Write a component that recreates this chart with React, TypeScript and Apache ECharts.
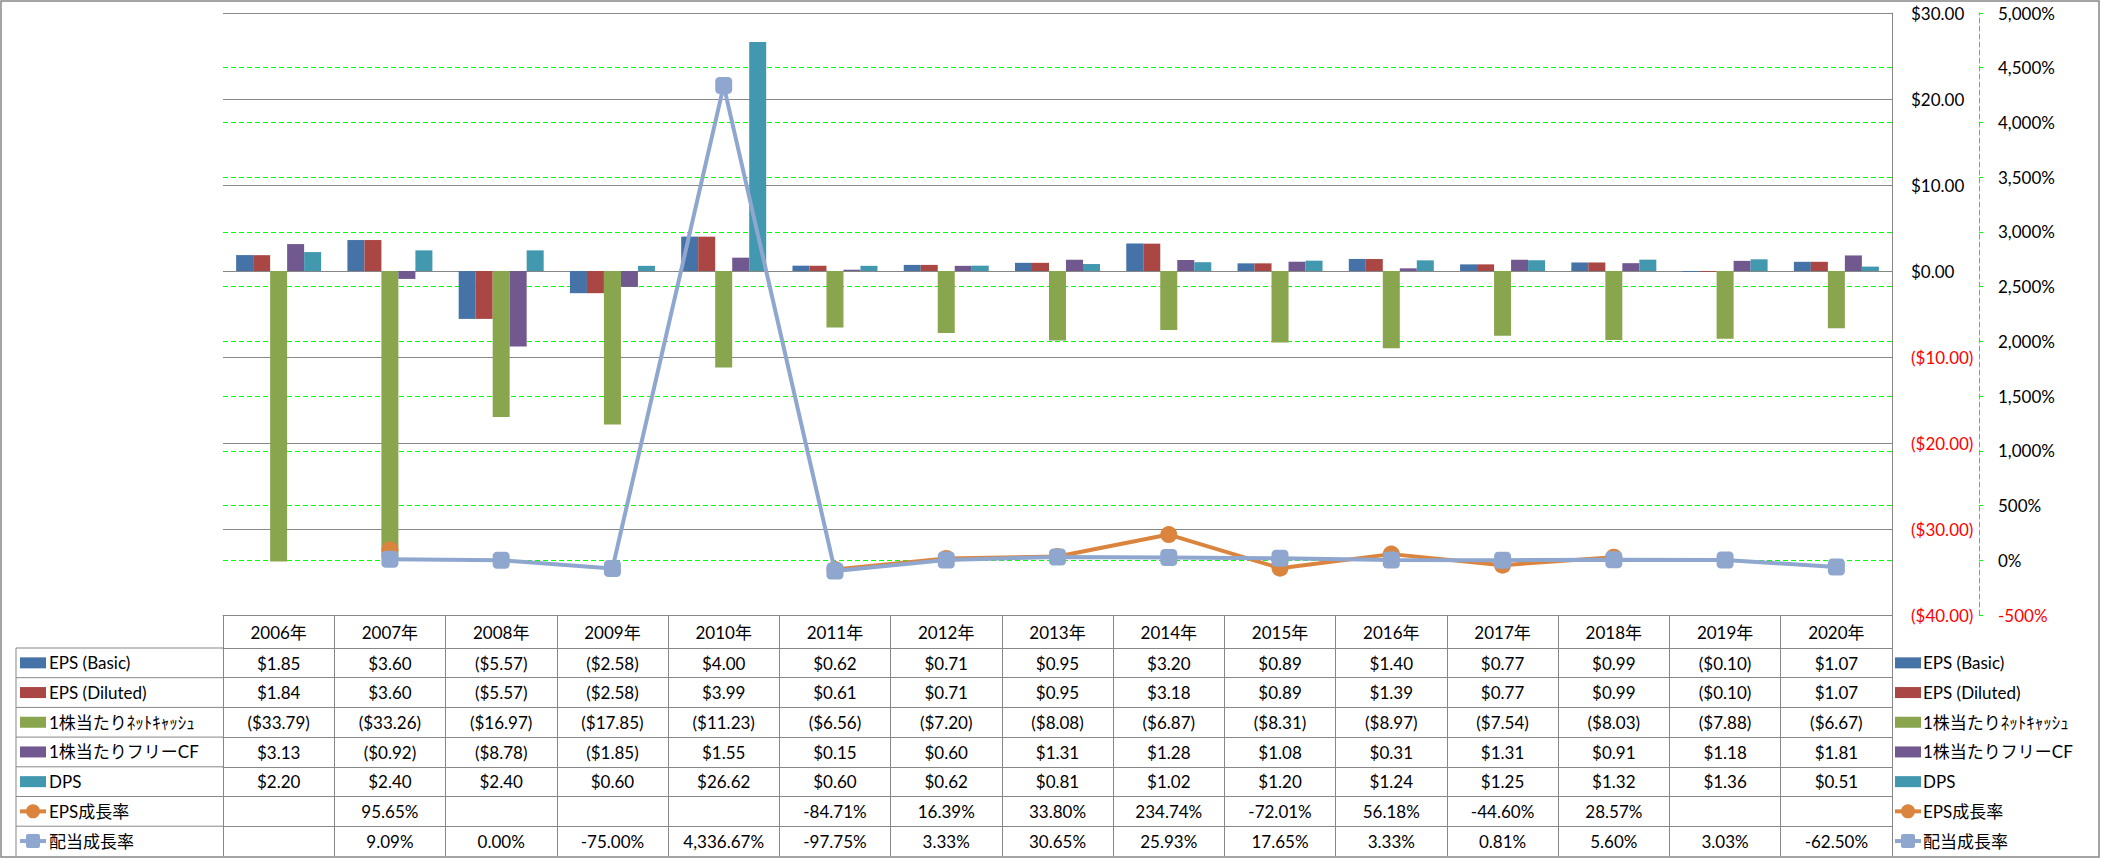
import React, { useEffect, useRef } from 'react';
import * as echarts from 'echarts';

const years = ['2006年', '2007年', '2008年', '2009年', '2010年', '2011年', '2012年', '2013年', '2014年', '2015年', '2016年', '2017年', '2018年', '2019年', '2020年'];
const epsBasic = [1.85, 3.6, -5.57, -2.58, 4.0, 0.62, 0.71, 0.95, 3.2, 0.89, 1.4, 0.77, 0.99, -0.1, 1.07];
const epsDiluted = [1.84, 3.6, -5.57, -2.58, 3.99, 0.61, 0.71, 0.95, 3.18, 0.89, 1.39, 0.77, 0.99, -0.1, 1.07];
const netCashPerShare = [-33.79, -33.26, -16.97, -17.85, -11.23, -6.56, -7.2, -8.08, -6.87, -8.31, -8.97, -7.54, -8.03, -7.88, -6.67];
const fcfPerShare = [3.13, -0.92, -8.78, -1.85, 1.55, 0.15, 0.6, 1.31, 1.28, 1.08, 0.31, 1.31, 0.91, 1.18, 1.81];
const dps = [2.2, 2.4, 2.4, 0.6, 26.62, 0.6, 0.62, 0.81, 1.02, 1.2, 1.24, 1.25, 1.32, 1.36, 0.51];
const epsGrowth: (number | null)[] = [null, 95.65, null, null, null, -84.71, 16.39, 33.8, 234.74, -72.01, 56.18, -44.6, 28.57, null, null];
const dpsGrowth: (number | null)[] = [null, 9.09, 0.0, -75.0, 4336.67, -97.75, 3.33, 30.65, 25.93, 17.65, 3.33, 0.81, 5.6, 3.03, -62.5];

const seriesNames = ['EPS (Basic)', 'EPS (Diluted)', '1株当たりﾈｯﾄｷｬｯｼｭ', '1株当たりフリーCF', 'DPS', 'EPS成長率', '配当成長率'];

const W = 2101;
const H = 858;
const GRID_L = 223;
const GRID_R = 1892;
const GRID_T = 13;
const GRID_B = 615;
const HEADER_H = 33;
const ROW_H = 29.7;
const TABLE_BOTTOM = 856;
const GREY = '#878787';
const GREEN = '#00FF00';
const FONT = 'Lato, "Noto Sans CJK JP", sans-serif';
const FS = 17;

const colors = ['#4572A7', '#AA4643', '#89A54E', '#71588F', '#4198AF', '#DB843D', '#8FA7CF'];

const fmtDollar = (v: number | null) => {
  if (v === null || v === undefined) return '';
  return v < 0 ? `($${Math.abs(v).toFixed(2)})` : `$${v.toFixed(2)}`;
};
const fmtPct = (v: number | null) => {
  if (v === null || v === undefined) return '';
  return v.toLocaleString('en-US', { minimumFractionDigits: 2, maximumFractionDigits: 2 }) + '%';
};

const rows: { data: (number | null)[]; fmt: (v: number | null) => string }[] = [
  { data: epsBasic, fmt: fmtDollar },
  { data: epsDiluted, fmt: fmtDollar },
  { data: netCashPerShare, fmt: fmtDollar },
  { data: fcfPerShare, fmt: fmtDollar },
  { data: dps, fmt: fmtDollar },
  { data: epsGrowth, fmt: fmtPct },
  { data: dpsGrowth, fmt: fmtPct },
];

function legendIcon(i: number, x: number, cy: number): any[] {
  const c = colors[i];
  if (i < 5) {
    return [{ type: 'rect', shape: { x, y: cy - 5.5, width: 26, height: 11 }, style: { fill: c }, silent: true }];
  }
  const els: any[] = [
    { type: 'line', shape: { x1: x, y1: cy, x2: x + 26, y2: cy }, style: { stroke: c, lineWidth: 4 }, silent: true },
  ];
  if (i === 5) {
    els.push({ type: 'circle', shape: { cx: x + 13, cy, r: 7 }, style: { fill: c }, silent: true });
  } else {
    els.push({ type: 'rect', shape: { x: x + 6, y: cy - 7, width: 14, height: 14, r: 2 }, style: { fill: c }, silent: true });
  }
  return els;
}

function buildGraphic(): any[] {
  const g: any[] = [];
  g.push({
    type: 'rect',
    shape: { x: 1, y: 1, width: W - 3, height: TABLE_BOTTOM },
    style: { fill: 'none', stroke: GREY, lineWidth: 1.5 },
    silent: true,
    z: 0,
  });
  const rowTop0 = GRID_B + HEADER_H;
  g.push({ type: 'line', shape: { x1: 16, y1: rowTop0, x2: 16, y2: TABLE_BOTTOM }, style: { stroke: GREY, lineWidth: 1 }, silent: true });
  for (let k = 0; k < seriesNames.length; k++) {
    const y = rowTop0 + k * ROW_H;
    g.push({ type: 'line', shape: { x1: 16, y1: y, x2: GRID_L, y2: y }, style: { stroke: GREY, lineWidth: 1 }, silent: true });
  }
  seriesNames.forEach((name, i) => {
    const cy = rowTop0 + (i + 0.5) * ROW_H;
    legendIcon(i, 20, cy).forEach((e) => g.push(e));
    g.push({
      type: 'text',
      x: 49,
      y: cy,
      style: { text: name, fill: '#000', fontSize: FS, fontFamily: FONT, align: 'left', verticalAlign: 'middle' },
      silent: true,
    });
    legendIcon(i, 1895, cy).forEach((e) => g.push(e));
    g.push({
      type: 'text',
      x: 1923,
      y: cy,
      style: { text: name, fill: '#000', fontSize: FS, fontFamily: FONT, align: 'left', verticalAlign: 'middle' },
      silent: true,
    });
  });
  return g;
}

export default function App() {
  const ref = useRef<HTMLDivElement>(null);
  useEffect(() => {
    document.body.style.margin = '0';
    if (!ref.current) return;
    const chart = echarts.init(ref.current, undefined, { renderer: 'svg' });

    const labelBase = { fontSize: FS, fontFamily: FONT, color: '#000' };

    const xAxes: any[] = [
      {
        type: 'category',
        data: years,
        gridIndex: 0,
        position: 'bottom',
        z: 1,
        axisLine: { show: true, onZero: false, lineStyle: { color: GREY, width: 1 } },
        axisTick: { show: true, interval: 0, length: TABLE_BOTTOM - GRID_B, lineStyle: { color: GREY, width: 1 } },
        axisLabel: { ...labelBase, interval: 0, margin: 8, lineHeight: 18 },
        splitLine: { show: false },
      },
      ...rows.map((r, k) => ({
        type: 'category',
        data: years,
        gridIndex: 0,
        position: 'bottom',
        offset: HEADER_H + k * ROW_H,
        axisLine: { show: true, onZero: false, lineStyle: { color: GREY, width: 1 } },
        axisTick: { show: false },
        axisLabel: {
          ...labelBase,
          interval: 0,
          margin: 6,
          lineHeight: 18,
          formatter: (_v: string, idx: number) => r.fmt(r.data[idx]),
        },
        splitLine: { show: false },
      })),
    ];

    const barData = [epsBasic, epsDiluted, netCashPerShare, fcfPerShare, dps];

    const series: any[] = barData.map((d, i) => ({
      name: seriesNames[i],
      type: 'bar',
      xAxisIndex: 0,
      yAxisIndex: 0,
      data: d,
      barWidth: 17,
      barGap: '0%',
      itemStyle: { color: colors[i] },
    }));
    series.push({
      name: seriesNames[5],
      type: 'line',
      xAxisIndex: 0,
      yAxisIndex: 1,
      data: epsGrowth,
      connectNulls: false,
      symbol: 'circle',
      symbolSize: 17,
      itemStyle: { color: colors[5] },
      lineStyle: { color: colors[5], width: 4 },
      z: 3,
    });
    series.push({
      name: seriesNames[6],
      type: 'line',
      xAxisIndex: 0,
      yAxisIndex: 1,
      data: dpsGrowth,
      connectNulls: false,
      symbol: 'roundRect',
      symbolSize: 17,
      itemStyle: { color: colors[6] },
      lineStyle: { color: colors[6], width: 4 },
      z: 4,
    });

    chart.setOption({
      animation: false,
      backgroundColor: '#FFFFFF',
      textStyle: { fontFamily: FONT },
      grid: { left: GRID_L, right: W - GRID_R, top: GRID_T, bottom: H - GRID_B, containLabel: false },
      xAxis: xAxes,
      yAxis: [
        {
          type: 'value',
          position: 'right',
          z: 1,
          min: -40,
          max: 30,
          interval: 10,
          axisLine: { show: true, lineStyle: { color: GREY, width: 1 } },
          axisTick: { show: false },
          splitLine: { show: true, lineStyle: { color: GREY, width: 1 } },
          axisLabel: {
            fontSize: FS,
            fontFamily: FONT,
            margin: 19,
            formatter: (v: number) => fmtDollar(v),
            color: (v: any) => (Number(v) < 0 ? '#FF0000' : '#000000'),
          },
        },
        {
          type: 'value',
          position: 'right',
          offset: 87,
          z: 0,
          min: -500,
          max: 5000,
          interval: 500,
          axisLine: { show: true, lineStyle: { color: GREEN, width: 1, type: [5, 3] } },
          axisTick: { show: true, length: 4, lineStyle: { color: GREEN, width: 1 } },
          splitLine: { show: true, lineStyle: { color: GREEN, width: 1.2, type: [5, 3] } },
          axisLabel: {
            fontSize: FS,
            fontFamily: FONT,
            margin: 19,
            formatter: (v: number) => v.toLocaleString('en-US') + '%',
            color: (v: any) => (Number(v) < 0 ? '#FF0000' : '#000000'),
          },
        },
      ],
      series,
      graphic: buildGraphic(),
    });

    return () => {
      chart.dispose();
    };
  }, []);

  return <div ref={ref} style={{ position: 'absolute', left: 0, top: 0, width: W, height: H }} />;
}
